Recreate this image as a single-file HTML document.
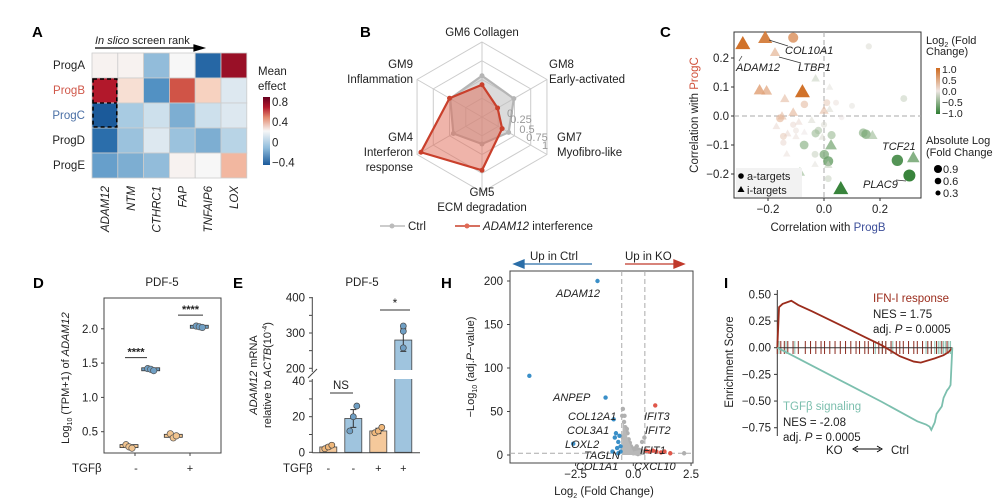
<!DOCTYPE html>
<html><head><meta charset="utf-8">
<style>
html,body{margin:0;padding:0;background:#fff;}
svg{display:block;font-family:"Liberation Sans",Arial,sans-serif;}
text{fill:#222;}
.it{font-style:italic;}
.lbl{font-size:11px;}
.pl{font-size:15px;font-weight:bold;fill:#000;}
</style></head>
<body>
<svg id="fig" width="998" height="503" viewBox="0 0 998 503" xmlns="http://www.w3.org/2000/svg">
<text class="pl" x="32" y="37">A</text>
<text class="pl" x="360" y="37">B</text>
<text class="pl" x="660" y="37">C</text>
<text class="pl" x="33" y="288">D</text>
<text class="pl" x="233" y="288">E</text>
<text class="pl" x="441" y="288">H</text>
<text class="pl" x="724" y="288">I</text>
<g id="gA"></g>
<g id="gB"></g>
<g id="gC"></g>
<g id="gD"></g>
<g id="gE"></g>
<g id="gH"></g>
<g id="gI"></g>
</svg>
<script>
// ---------- Panel A data ----------
const heatRows = ["ProgA","ProgB","ProgC","ProgD","ProgE"];
const heatCols = ["ADAM12","NTM","CTHRC1","FAP","TNFAIP6","LOX"];
const heatRowA = [0.02,0.02,-0.2,0.0,-0.6,0.9];
const heatRowB = [0.85,0.1,-0.35,0.6,0.15,-0.05];
const heatRowC = [-0.7,-0.15,-0.08,-0.25,-0.08,-0.05];
const heatRowD = [-0.55,-0.18,-0.05,-0.18,-0.25,-0.12];
const heatRowE = [-0.3,-0.25,-0.2,0.02,0.0,0.25];
const heatCbTicks = [0.8,0.4,0,-0.4];
// ---------- Panel B data ----------
const radarAxes = ["GM6 Collagen","GM8 Early-activated","GM7 Myofibro-like","GM5 ECM degradation","GM4 Interferon response","GM9 Inflammation"];
const radarCtrl = [0.55,0.49,0.41,0.36,0.44,0.49];
const radarKD = [0.43,0.24,0.31,0.71,0.94,0.5];
const radarTicks = ["0","0.25","0.5","0.75","1"];
// ---------- Panel C data ----------
const cX = [-0.29,-0.21,-0.11,0.16,-0.175,-0.03,0.02,-0.23,-0.205,-0.077,0.285,-0.14,-0.07,-0.11,0.0,0.01,0.043,0.1,0.02,-0.15,-0.157,-0.044,0.063,-0.09,-0.11,-0.17,0.0,-0.02,-0.03,-0.07,-0.13,-0.1,-0.145,-0.1,-0.006,0.027,0.14,0.15,0.173,-0.071,0.025,-0.145,-0.133,-0.032,0.001,0.015,-0.032,0.015,0.262,0.319,-0.086,0.015,0.305,0.06];
const cY = [0.25,0.27,0.27,0.24,0.22,0.13,0.10,0.09,0.088,0.084,0.06,0.06,0.04,0.013,0.02,0.046,0.046,0.035,0.024,0.0,-0.008,-0.014,-0.005,-0.02,-0.03,-0.035,-0.03,-0.05,-0.06,-0.055,-0.06,-0.05,-0.07,-0.07,-0.072,-0.066,-0.058,-0.063,-0.066,-0.1,-0.1,-0.092,-0.13,-0.132,-0.133,-0.156,-0.166,-0.168,-0.153,-0.143,-0.193,-0.216,-0.205,-0.25];
const cFC = [1.0,0.9,0.7,-0.1,0.4,-0.2,-0.05,0.6,0.5,1.0,-0.2,0.3,0.3,0.35,0.3,0.2,0.05,-0.05,-0.1,0.3,0.35,-0.1,0.0,0.1,0.1,0.1,-0.1,-0.3,-0.4,0.0,0.1,0.05,0.2,0.05,-0.1,-0.4,-0.5,-0.6,-0.4,-0.5,-0.6,0.1,0.05,-0.2,-0.6,-0.7,-0.05,-0.2,-0.9,-0.7,-0.4,-0.2,-1.0,-1.0];
const cType = ["t","t","c","c","t","t","t","t","t","t","c","t","c","t","t","c","c","c","t","t","c","t","c","t","c","t","c","c","c","t","t","c","c","t","t","c","c","c","t","c","t","c","t","c","c","c","t","t","c","t","t","c","c","t"];
const cXTicks = [-0.2,0.0,0.2];
const cYTicks = [0.2,0.1,0.0,-0.1,-0.2];
const cFcTicks = ["1.0","0.5","0.0","\u22120.5","\u22121.0"];
const cSizeTicks = [0.9,0.6,0.3];
// ---------- Panel D data ----------
const dGroupX = [0,1,2,3];
const dValues = [[0.31,0.28,0.26],[1.42,1.41,1.39],[0.47,0.41,0.44],[2.04,2.03,2.02]];
const dMedians = [0.29,1.41,0.44,2.03];
const dYTicks = [0.5,1.0,1.5,2.0];
// ---------- Panel E data ----------
const eMeans = [3,19,12,280];
const eSem = [1,5,1.5,32];
const ePoints = [[2,3,4],[12,20,26],[11,12,14],[258,305,320]];
const eLowTicks = [0,20,40];
const eHighTicks = [200,300,400];
// ---------- Panel H data ----------
const hBlueX = [-1.55,-4.5,-1.2,-2.6,-0.85,-0.75,-0.8,-0.65,-0.55,-0.7,-0.6,-0.9,-0.55,-0.65];
const hBlueY = [200,91,66,13,41,25,20,15,10,8,22,4,4,2];
const hRedX = [0.95,0.55,0.7,0.85,1.0,1.2,1.35,1.6];
const hRedY = [57,5,4,5,4,3,4,2];
const hGrayX = [-0.45,-0.4,-0.35,-0.3,-0.25,-0.2,-0.15,-0.1,-0.05,0.0,0.05,0.1,0.15,0.2,0.25,0.3,0.35,0.4,0.45,-0.45,-0.3,-0.2,-0.1,0.0,0.1,0.2,0.3,-0.38,-0.28,0.38,2.2,-0.48,-0.4,0.48];
const hGrayY = [53,38,32,28,25,18,14,10,8,6,5,8,10,4,6,3,5,4,3,20,12,7,3,2,2,1,2,45,30,15,2,45,22,20];
const hYTicks = [0,50,100,150,200];
const hXTicks = [-2.5,0.0,2.5];
// ---------- Panel I data ----------
const iRedPos = [0,0.01,0.03,0.08,0.12,0.2,0.3,0.4,0.5,0.6,0.7,0.78,0.82,0.9,0.95,0.98,1];
const iRedES = [0,0.38,0.41,0.44,0.40,0.34,0.26,0.18,0.10,0.02,-0.08,-0.13,-0.14,-0.10,-0.07,-0.04,0];
const iGreenPos = [0,0.06,0.2,0.4,0.6,0.8,0.85,0.87,0.88,0.9,0.91,0.94,0.95,0.97,0.98,0.99,1];
const iGreenES = [0,-0.05,-0.17,-0.34,-0.51,-0.69,-0.72,-0.74,-0.77,-0.70,-0.62,-0.55,-0.47,-0.40,-0.38,-0.35,0];
const iRedHits = [0.0,0.02,0.04,0.06,0.09,0.12,0.16,0.19,0.22,0.25,0.27,0.3,0.33,0.36,0.39,0.42,0.45,0.47,0.5,0.52,0.55,0.58,0.6,0.62,0.65,0.68,0.7,0.72,0.75,0.78,0.8,0.83,0.86,0.88,0.91,0.94,0.97];
const iTealHits = [0.01,0.05,0.1,0.56,0.6,0.62,0.66,0.85,0.88,0.9,0.92,0.93,0.95,0.96,0.97,0.98,0.99];
const iYTicks = [0.5,0.25,0,-0.25,-0.5,-0.75];
const iYTickLabels = ["0.50","0.25","0.00","\u22120.25","\u22120.50","\u22120.75"];

const NS="http://www.w3.org/2000/svg";
function mk(parent,tag,attrs,txt){const e=document.createElementNS(NS,tag);for(const k in attrs)e.setAttribute(k,attrs[k]);if(txt!==undefined)e.textContent=txt;parent.appendChild(e);return e;}
function hex(c){return [parseInt(c.slice(1,3),16),parseInt(c.slice(3,5),16),parseInt(c.slice(5,7),16)];}
function interp(stops,v){if(v<=stops[0][0])return stops[0][1];for(let i=1;i<stops.length;i++){if(v<=stops[i][0]){const t=(v-stops[i-1][0])/(stops[i][0]-stops[i-1][0]);const a=hex(stops[i-1][1]),b=hex(stops[i][1]);return "rgb("+a.map((x,j)=>Math.round(x+(b[j]-x)*t)).join(",")+")";}}return stops[stops.length-1][1];}

// ================= A =================
(function(){
const g=document.getElementById('gA');
const rows=[heatRowA,heatRowB,heatRowC,heatRowD,heatRowE];
const x0=92,y0=53,cw=25.8,ch=25;
const stops=[[-0.7,'#1b5a9a'],[-0.4,'#3c82bb'],[-0.15,'#a8cbe2'],[0,'#f7f7f7'],[0.2,'#f7c6ae'],[0.55,'#d6604d'],[0.85,'#b2182b'],[1.0,'#67001f']];
const t=mk(g,'text',{x:95,y:44,class:'lbl'});


mk(t,'tspan',{class:'it'},'In slico');mk(t,'tspan',{},' screen rank');
const ar=mk(g,'path',{d:'M95 48 H200 M194 45 L204 48 L194 51 Z',stroke:'#000','stroke-width':1.2,fill:'#000'});


rows.forEach((r,i)=>{r.forEach((v,j)=>{
 const c=mk(g,'rect',{x:x0+j*cw,y:y0+i*ch,width:cw,height:ch,fill:interp(stops,v),stroke:'#ccc','stroke-width':0.8});
 
 
});
 const l=mk(g,'text',{x:85,y:y0+i*ch+16,'text-anchor':'end',class:'lbl',style:'font-size:11.5px;fill:'+(i==1?'#d0584a':i==2?'#4a6fa5':'#222')},heatRows[i]);
 
 
});
const hl=mk(g,'rect',{x:x0+1,y:y0+ch+1,width:cw-2,height:2*ch-2,fill:'none',stroke:'#000','stroke-width':1.6,'stroke-dasharray':'4 3'});


mk(g,'line',{x1:x0+1,x2:x0+cw-1,y1:y0+2*ch,y2:y0+2*ch,stroke:'#000','stroke-width':1.2,'stroke-dasharray':'4 3'});
heatCols.forEach((c,j)=>{
 const l=mk(g,'text',{transform:`translate(${x0+j*cw+17},186) rotate(-90)`,'text-anchor':'end',class:'lbl it',style:'font-size:11.5px'},c);
 
 
});
const tt=mk(g,'text',{x:258,y:75,class:'lbl',style:'font-size:11.5px'},'Mean');


mk(g,'text',{x:258,y:90,class:'lbl',style:'font-size:11.5px'},'effect');
const defs=mk(g,'defs',{});const lg=mk(defs,'linearGradient',{id:'gradA',x1:0,y1:0,x2:0,y2:1});
[[0,'#67001f'],[0.15,'#b2182b'],[0.3,'#e38a6f'],[0.5,'#f7f7f7'],[0.75,'#8fbcdc'],[1,'#1b5a9a']].forEach(s=>mk(lg,'stop',{offset:s[0],'stop-color':s[1]}));
const cb=mk(g,'rect',{x:263,y:97,width:7,height:68,fill:'url(#gradA)'});


const cy=v=>97+(0.9-v)/(1.35)*68;
heatCbTicks.forEach(v=>{const l=mk(g,'text',{x:272,y:cy(v)+4,class:'lbl',style:'font-size:11.5px'},v==0?'0':(v<0?'\u2212'+Math.abs(v):v));
 
 });
})();

// ================= B =================
(function(){
const g=document.getElementById('gB');
const cx=482,cy=117,R=75;
const ang=[90,30,-30,-90,-150,150].map(a=>a*Math.PI/180);
const pt=(i,r)=>[cx+r*Math.cos(ang[i]),cy-r*Math.sin(ang[i])];
[0.25,0.5,0.75,1].forEach(f=>{const p=ang.map((a,i)=>pt(i,f*R).join(',')).join(' ');
 const e=mk(g,'polygon',{points:p,fill:'none',stroke:'#ccc','stroke-width':1});
 
 });
ang.forEach((a,i)=>{const p=pt(i,R);mk(g,'line',{x1:cx,y1:cy,x2:p[0],y2:p[1],stroke:'#ccc','stroke-width':1});});
function poly(vals,fill,stroke,fo,name){const p=vals.map((v,i)=>pt(i,v*R).join(',')).join(' ');
 const e=mk(g,'polygon',{points:p,fill:fill,'fill-opacity':fo,stroke:stroke,'stroke-width':2.2});
 
 
 vals.forEach((v,i)=>{const q=pt(i,v*R);mk(g,'circle',{cx:q[0],cy:q[1],r:2.5,fill:stroke});});}
poly(radarCtrl,'#bdbdbd','#b5b5b5',0.55,'radar-ctrl');
poly(radarKD,'#e06a55','#c9402c',0.5,'radar-adam12');
const tp=[[510,117],[521,123],[527,133],[537,141],[545,149]];
radarTicks.forEach((t,i)=>{const e=mk(g,'text',{x:tp[i][0],y:tp[i][1],'text-anchor':'middle',style:'font-size:11px;fill:#999'},t);
 
 });
const labs=[[[482,36,'middle'],['GM6 Collagen']],[[549,68,'start'],['GM8','Early-activated']],[[557,141,'start'],['GM7','Myofibro-like']],[[482,196,'middle'],['GM5','ECM degradation']],[[413,141,'end'],['GM4','Interferon','response']],[[413,68,'end'],['GM9','Inflammation']]];
labs.forEach((l,k)=>{l[1].forEach((s,j)=>{const e=mk(g,'text',{x:l[0][0],y:l[0][1]+j*15,'text-anchor':l[0][2],class:'lbl',style:'font-size:11.5px'},s);
 
 });});
const l1=mk(g,'line',{x1:380,x2:405,y1:226,y2:226,stroke:'#bbb','stroke-width':1.5});


mk(g,'circle',{cx:392,cy:226,r:2.5,fill:'#bbb'});
mk(g,'text',{x:408,y:230,class:'lbl',style:'font-size:11.5px'},'Ctrl');
const l2=mk(g,'line',{x1:455,x2:480,y1:226,y2:226,stroke:'#c9402c','stroke-width':1.5});


mk(g,'circle',{cx:467,cy:226,r:2.5,fill:'#e06a55'});
const t=mk(g,'text',{x:483,y:230,class:'lbl',style:'font-size:11.5px'});
mk(t,'tspan',{class:'it'},'ADAM12');mk(t,'tspan',{},' interference');
})();

// ================= C =================
(function(){
const g=document.getElementById('gC');
const X=v=>824+v*280,Y=v=>116-v*290;
const stops=[[-1,'#2e7d32'],[-0.5,'#8fb58a'],[0,'#e9e1df'],[0.5,'#e0a27a'],[1,'#cf6a1f']];
const box=mk(g,'rect',{x:734,y:32,width:187,height:166,fill:'none',stroke:'#333','stroke-width':1});


mk(g,'line',{x1:X(0),x2:X(0),y1:32,y2:198,stroke:'#aaa','stroke-dasharray':'5 3'});
mk(g,'line',{x1:734,x2:921,y1:Y(0),y2:Y(0),stroke:'#aaa','stroke-dasharray':'5 3'});
cX.forEach((x,i)=>{const f=cFC[i],r=2.8+3.2*Math.abs(f),col=interp(stops,f),op=0.45+0.5*Math.abs(f);let e;
 if(cType[i]=='c')e=mk(g,'circle',{cx:X(x),cy:Y(cY[i]),r:r,fill:col,'fill-opacity':op});
 else{const px=X(x),py=Y(cY[i]),s=r*1.25;e=mk(g,'polygon',{points:`${px},${py-s} ${px-s},${py+s*0.75} ${px+s},${py+s*0.75}`,fill:col,'fill-opacity':op});}
 
 });
cXTicks.forEach(v=>{mk(g,'line',{x1:X(v),x2:X(v),y1:198,y2:201,stroke:'#333'});
 const e=mk(g,'text',{x:X(v),y:213,'text-anchor':'middle',class:'lbl',style:'font-size:11.5px'},(v<0?'\u2212':'')+Math.abs(v).toFixed(1));
 
 });
cYTicks.forEach(v=>{mk(g,'line',{x1:731,x2:734,y1:Y(v),y2:Y(v),stroke:'#333'});
 const e=mk(g,'text',{x:729,y:Y(v)+4,'text-anchor':'end',class:'lbl',style:'font-size:11.5px'},(v<0?'\u2212':'')+Math.abs(v).toFixed(1));
 
 });
const xt=mk(g,'text',{x:828,y:231,'text-anchor':'middle',class:'lbl',style:'font-size:11.5px'});


mk(xt,'tspan',{},'Correlation with ');mk(xt,'tspan',{style:'fill:#3d4f9a'},'ProgB');
const yt=mk(g,'text',{transform:'translate(698,115) rotate(-90)','text-anchor':'middle',class:'lbl',style:'font-size:11.5px'});


mk(yt,'tspan',{},'Correlation with ');mk(yt,'tspan',{style:'fill:#d0503a'},'ProgC');
[['ADAM12',736,71,742,56],['COL10A1',785,54,769,40],['LTBP1',798,71,779,57],['TCF21',882,150,0,0],['PLAC9',863,188,906,181]].forEach(a=>{
 const e=mk(g,'text',{x:a[1],y:a[2],class:'lbl it',style:'font-size:11px'},a[0]);
 
 
 if(a[3])mk(g,'line',{x1:a[3],y1:a[4],x2:a[0]=='PLAC9'?a[1]+33:a[1]+3,y2:a[0]=='ADAM12'?a[2]-10:a[2]-8,stroke:'#333','stroke-width':0.7});});
mk(g,'rect',{x:736,y:168,width:66,height:29,fill:'#f2f2f2'});
mk(g,'circle',{cx:741,cy:176,r:2.8,fill:'#000'});
mk(g,'text',{x:747,y:180,class:'lbl'},'a-targets');
mk(g,'polygon',{points:'741,186 737.5,192 744.5,192',fill:'#000'});
mk(g,'text',{x:747,y:194,class:'lbl'},'i-targets');
const t1=mk(g,'text',{x:926,y:44,class:'lbl'});


mk(t1,'tspan',{},'Log');mk(t1,'tspan',{dy:3,style:'font-size:7px'},'2');mk(t1,'tspan',{dy:-3},' (Fold');
mk(g,'text',{x:926,y:55,class:'lbl'},'Change)');
const defs=mk(g,'defs',{});const lg=mk(defs,'linearGradient',{id:'gradC',x1:0,y1:0,x2:0,y2:1});
[[0,'#cf6a1f'],[0.5,'#eee6e3'],[1,'#2e7d32']].forEach(s=>mk(lg,'stop',{offset:s[0],'stop-color':s[1]}));
const cb=mk(g,'rect',{x:936,y:68,width:4,height:46,fill:'url(#gradC)'});


cFcTicks.forEach((s,i)=>{const e=mk(g,'text',{x:942,y:73+i*11,class:'lbl',style:'font-size:10.5px'},s);
 
 });
mk(g,'text',{x:926,y:144,class:'lbl'},'Absolute Log');
mk(g,'text',{x:926,y:156,class:'lbl'},'(Fold Change');
cSizeTicks.forEach((v,i)=>{mk(g,'circle',{cx:938,cy:169+i*12,r:1.8+2.5*v,fill:'#000'});
 const e=mk(g,'text',{x:943,y:173+i*12,class:'lbl'},v.toFixed(1));
 
 });
})();

// ================= D =================
(function(){
const g=document.getElementById('gD');
const Y=v=>431.7-(v-0.5)*68.6;
const gx=[129,150.7,173.3,199.3];
const cols=['#f1c48f','#6f9fc4','#f1c48f','#6f9fc4'];
mk(g,'text',{x:162,y:286,'text-anchor':'middle',class:'lbl',style:'font-size:11.5px'},'PDF-5');
const fr=mk(g,'rect',{x:104,y:298,width:117,height:155,fill:'none',stroke:'#444'});


dYTicks.forEach(v=>{mk(g,'line',{x1:101,x2:104,y1:Y(v),y2:Y(v),stroke:'#444'});
 const e=mk(g,'text',{x:98,y:Y(v)+4,'text-anchor':'end',class:'lbl',style:'font-size:11.5px'},v.toFixed(1));
 
 });
dGroupX.forEach(k=>{const x=gx[k];
 const m=mk(g,'rect',{x:x-9,y:Y(dMedians[k])-1.5,width:18,height:3,fill:cols[k],stroke:'#333','stroke-width':0.8});
 
 
 dValues[k].forEach((v,j)=>{const c=mk(g,'circle',{cx:x-3+j*3,cy:Y(v),r:3.2,fill:cols[k],stroke:'#555','stroke-width':0.7});
 
 });});
[[125,147,1.58],[178,203,2.2]].forEach(s=>{mk(g,'line',{x1:s[0],x2:s[1],y1:Y(s[2]),y2:Y(s[2]),stroke:'#333'});
 const e=mk(g,'text',{x:(s[0]+s[1])/2,y:Y(s[2])-2,'text-anchor':'middle',style:'font-size:11px;font-weight:bold'},'****');
 
 });
mk(g,'line',{x1:135,x2:135,y1:453,y2:456,stroke:'#444'});mk(g,'line',{x1:190,x2:190,y1:453,y2:456,stroke:'#444'});
mk(g,'text',{x:72,y:472,class:'lbl',style:'font-size:11.5px'},'TGF\u03b2');
mk(g,'text',{x:136,y:472,'text-anchor':'middle',class:'lbl'},'-');
mk(g,'text',{x:190,y:472,'text-anchor':'middle',class:'lbl'},'+');
const yt=mk(g,'text',{transform:'translate(69,378) rotate(-90)','text-anchor':'middle',class:'lbl',style:'font-size:11px'});


mk(yt,'tspan',{},'Log');mk(yt,'tspan',{dy:3,style:'font-size:7px'},'10');mk(yt,'tspan',{dy:-3},' (TPM+1) of ');mk(yt,'tspan',{class:'it'},'ADAM12');
})();

// ================= E =================
(function(){
const g=document.getElementById('gE');
const YL=v=>452.3-v*1.78, YH=v=>368.3-(v-200)*0.353;
const Y=v=>v<=45?YL(v):YH(v);
const bx=[328.3,353.3,378.3,403.3];
const cols=['#f5c99b','#9fc4de','#f5c99b','#9fc4de'];
mk(g,'text',{x:362,y:286,'text-anchor':'middle',class:'lbl',style:'font-size:11.5px'},'PDF-5');
mk(g,'line',{x1:312.3,x2:312.3,y1:297,y2:372,stroke:'#444'});
mk(g,'line',{x1:312.3,x2:312.3,y1:379,y2:453,stroke:'#444'});
mk(g,'line',{x1:312.3,x2:420,y1:452.8,y2:452.8,stroke:'#444'});
mk(g,'line',{x1:308,x2:317,y1:378,y2:369,stroke:'#444'});
eLowTicks.forEach(v=>{mk(g,'line',{x1:309,x2:312,y1:YL(v),y2:YL(v),stroke:'#444'});
 const e=mk(g,'text',{x:305,y:YL(v)+4,'text-anchor':'end',class:'lbl',style:'font-size:11.5px'},v);
 
 });
eHighTicks.forEach(v=>{mk(g,'line',{x1:309,x2:312,y1:YH(v),y2:YH(v),stroke:'#444'});
 const e=mk(g,'text',{x:305,y:YH(v)+4,'text-anchor':'end',class:'lbl',style:'font-size:11.5px'},v);
 
 });
[10,30].forEach(v=>mk(g,'line',{x1:309,x2:312,y1:YL(v),y2:YL(v),stroke:'#444'}));
[250,350].forEach(v=>mk(g,'line',{x1:309,x2:312,y1:YH(v),y2:YH(v),stroke:'#444'}));
eMeans.forEach((m,k)=>{const top=Y(m);
 const b=mk(g,'rect',{x:bx[k]-8.5,y:top,width:17,height:452.3-top,fill:cols[k],stroke:'#444','stroke-width':0.8});
 
 
 if(m>45)mk(g,'rect',{x:bx[k]-10,y:370,width:20,height:9,fill:'#fff'});
 mk(g,'line',{x1:bx[k],x2:bx[k],y1:Y(m+eSem[k]),y2:Y(m-eSem[k]),stroke:'#333'});
 mk(g,'line',{x1:bx[k]-3,x2:bx[k]+3,y1:Y(m+eSem[k]),y2:Y(m+eSem[k]),stroke:'#333'});
 mk(g,'line',{x1:bx[k]-3,x2:bx[k]+3,y1:Y(m-eSem[k]),y2:Y(m-eSem[k]),stroke:'#333'});
 ePoints[k].forEach((v,j)=>{const c=mk(g,'circle',{cx:bx[k]+(m>45?0:(j-1)*3.5),cy:Y(v),r:3,fill:k%2?'#6f9fc4':'#f0b87b',stroke:'#444','stroke-width':0.7});
 
 });});
mk(g,'line',{x1:330,x2:353,y1:393,y2:393,stroke:'#333'});
mk(g,'text',{x:341,y:389,'text-anchor':'middle',class:'lbl',style:'font-size:11.5px'},'NS');
mk(g,'line',{x1:380,x2:410,y1:310,y2:310,stroke:'#333'});
mk(g,'text',{x:395,y:307,'text-anchor':'middle',style:'font-size:12px'},'*');
mk(g,'text',{x:283,y:472,class:'lbl',style:'font-size:11.5px'},'TGF\u03b2');
['-','-','+','+'].forEach((s,k)=>mk(g,'text',{x:bx[k],y:472,'text-anchor':'middle',class:'lbl'},s));
const y1=mk(g,'text',{transform:'translate(257,375) rotate(-90)','text-anchor':'middle',class:'lbl'});


mk(y1,'tspan',{class:'it'},'ADAM12');mk(y1,'tspan',{},' mRNA');
const y2=mk(g,'text',{transform:'translate(271,375) rotate(-90)','text-anchor':'middle',class:'lbl'});
mk(y2,'tspan',{},'relative to ');mk(y2,'tspan',{class:'it'},'ACTB');mk(y2,'tspan',{},'(10');mk(y2,'tspan',{dy:-4,style:'font-size:7px'},'-4');mk(y2,'tspan',{dy:4},')');
})();

// ================= H =================
(function(){
const g=document.getElementById('gH');
const X=v=>633.3+v*23.1, Y=v=>455-v*0.87;
const fr=mk(g,'rect',{x:510,y:271,width:183,height:192,fill:'none',stroke:'#444'});


mk(g,'line',{x1:X(-0.5),x2:X(-0.5),y1:271,y2:463,stroke:'#aaa','stroke-dasharray':'5 3'});
mk(g,'line',{x1:X(0.5),x2:X(0.5),y1:271,y2:463,stroke:'#aaa','stroke-dasharray':'5 3'});
mk(g,'line',{x1:510,x2:693,y1:Y(2),y2:Y(2),stroke:'#aaa','stroke-dasharray':'5 3'});
hGrayX.forEach((x,i)=>{const c=mk(g,'circle',{cx:X(x),cy:Y(hGrayY[i]),r:2.2,fill:'#b0b0b0'});
 
 });
mk(g,'polygon',{points:`${X(-0.5)},${Y(0)} ${X(-0.45)},${Y(40)} ${X(-0.2)},${Y(15)} ${X(0)},${Y(4)} ${X(0.3)},${Y(6)} ${X(0.5)},${Y(2)} ${X(0.5)},${Y(0)}`,fill:'#b8b8b8'});
hBlueX.forEach((x,i)=>{const c=mk(g,'circle',{cx:X(x),cy:Y(hBlueY[i]),r:2.2,fill:'#3a8fc8'});
 
 });
hRedX.forEach((x,i)=>{const c=mk(g,'circle',{cx:X(x),cy:Y(hRedY[i]),r:2.2,fill:'#e0574a'});
 
 });
hYTicks.forEach(v=>{mk(g,'line',{x1:507,x2:510,y1:Y(v),y2:Y(v),stroke:'#444'});
 const e=mk(g,'text',{x:503,y:Y(v)+4,'text-anchor':'end',class:'lbl',style:'font-size:11.5px'},v);
 
 });
hXTicks.forEach(v=>{mk(g,'line',{x1:X(v),x2:X(v),y1:463,y2:466,stroke:'#444'});
 const e=mk(g,'text',{x:X(v),y:478,'text-anchor':'middle',class:'lbl',style:'font-size:11.5px'},(v<0?'\u2212':'')+Math.abs(v).toFixed(1));
 
 });
const xt=mk(g,'text',{x:604,y:495,'text-anchor':'middle',class:'lbl',style:'font-size:11.5px'});


mk(xt,'tspan',{},'Log');mk(xt,'tspan',{dy:3,style:'font-size:7px'},'2');mk(xt,'tspan',{dy:-3},' (Fold Change)');
const yt=mk(g,'text',{transform:'translate(474,367) rotate(-90)','text-anchor':'middle',class:'lbl'});


mk(yt,'tspan',{},'\u2212Log');mk(yt,'tspan',{dy:3,style:'font-size:7px'},'10');mk(yt,'tspan',{dy:-3},' (adj.');mk(yt,'tspan',{class:'it'},'P');mk(yt,'tspan',{},'\u2212value)');
const a1=mk(g,'path',{d:'M592 264 H520 M524 260 L514 264 L524 268 Z',stroke:'#2b6ea8','stroke-width':1.3,fill:'#2b6ea8'});


mk(g,'text',{x:530,y:260,class:'lbl',style:'font-size:11.5px'},'Up in Ctrl');
const a2=mk(g,'path',{d:'M625 264 H678 M674 260 L684 264 L674 268 Z',stroke:'#c0392b','stroke-width':1.3,fill:'#c0392b'});


mk(g,'text',{x:625,y:260,class:'lbl',style:'font-size:11.5px'},'Up in KO');
[['ADAM12',556,297],['ANPEP',553,401],['COL12A1',568,420],['COL3A1',567,434],['LOXL2',565,448],['TAGLN',584,459],['COL1A1',576,470],['IFIT3',644,420],['IFIT2',645,434],['IFIT1',640,454],['CXCL10',634,470]].forEach(a=>{
 const e=mk(g,'text',{x:a[1],y:a[2],class:'lbl it',style:'font-size:11px'},a[0]);
 
 });
})();

// ================= I =================
(function(){
const g=document.getElementById('gI');
const X=p=>777.3+p*175, Y=v=>347.7-v*106.7;
mk(g,'line',{x1:777.3,x2:777.3,y1:290,y2:436,stroke:'#333'});
iYTicks.forEach((v,i)=>{mk(g,'line',{x1:774,x2:777.3,y1:Y(v),y2:Y(v),stroke:'#333'});
 const e=mk(g,'text',{x:771,y:Y(v)+4,'text-anchor':'end',class:'lbl',style:'font-size:11.5px'},iYTickLabels[i]);
 
 });
iTealHits.forEach(p=>{const l=mk(g,'line',{x1:X(p),x2:X(p),y1:341,y2:354,stroke:'#8cc5b4','stroke-width':1});
 
 });
iRedHits.forEach(p=>{const l=mk(g,'line',{x1:X(p),x2:X(p),y1:341,y2:354,stroke:'#8b2a1e','stroke-width':1});
 
 });
mk(g,'line',{x1:777.3,x2:952.5,y1:Y(0),y2:Y(0),stroke:'#333'});
const pr=mk(g,'polyline',{points:iRedPos.map((p,i)=>X(p)+','+Y(iRedES[i])).join(' '),fill:'none',stroke:'#9b2c1c','stroke-width':1.8});


const pg=mk(g,'polyline',{points:iGreenPos.map((p,i)=>X(p)+','+Y(iGreenES[i])).join(' '),fill:'none',stroke:'#7cbfae','stroke-width':1.8});


const t1=mk(g,'text',{x:873,y:302,class:'lbl',style:'font-size:11.5px;fill:#9b2c1c'},'IFN-I response');


mk(g,'text',{x:873,y:318,class:'lbl',style:'font-size:11.5px'},'NES = 1.75');
const a1=mk(g,'text',{x:873,y:333,class:'lbl',style:'font-size:11.5px'});mk(a1,'tspan',{},'adj. ');mk(a1,'tspan',{class:'it'},'P');mk(a1,'tspan',{},' = 0.0005');
const t2=mk(g,'text',{x:783,y:410,class:'lbl',style:'font-size:11.5px;fill:#7cbfae'},'TGF\u03b2 signaling');


mk(g,'text',{x:783,y:426,class:'lbl',style:'font-size:11.5px'},'NES = -2.08');
const a2=mk(g,'text',{x:783,y:441,class:'lbl',style:'font-size:11.5px'});mk(a2,'tspan',{},'adj. ');mk(a2,'tspan',{class:'it'},'P');mk(a2,'tspan',{},' = 0.0005');
mk(g,'text',{x:826,y:454,class:'lbl',style:'font-size:11.5px'},'KO');
mk(g,'path',{d:'M855 449 H880 M858 446 L853 449 L858 452 M877 446 L882 449 L877 452',stroke:'#000','stroke-width':1,fill:'none'});
mk(g,'text',{x:891,y:454,class:'lbl',style:'font-size:11.5px'},'Ctrl');
const yt=mk(g,'text',{transform:'translate(733,362) rotate(-90)','text-anchor':'middle',class:'lbl',style:'font-size:11.5px'},'Enrichment Score');


})();
</script>
</body></html>
